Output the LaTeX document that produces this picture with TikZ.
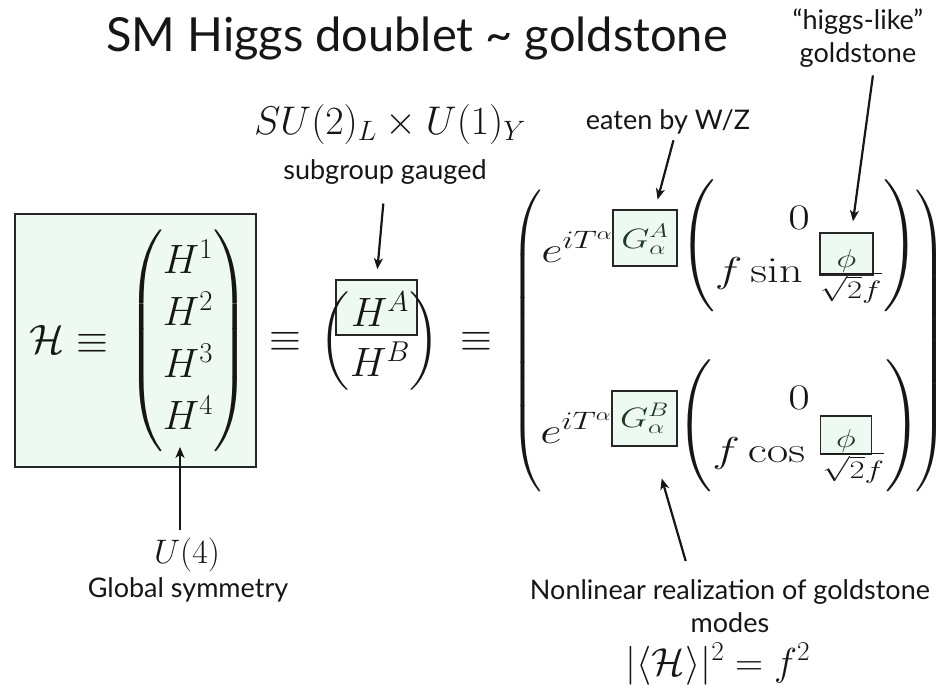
\RequirePackage{fix-cm}
\documentclass[tikz,border=0pt]{standalone}
\usepackage{amsmath,amssymb}
\usepackage{graphicx}
\usepackage[no-math]{fontspec}
\newfontfamily\slidefont{Lato}
\usepackage{xcolor}
\usepackage{tikz}
\usetikzlibrary{arrows.meta, positioning}

\definecolor{ink}{HTML}{161616}
\definecolor{boxline}{HTML}{262626}
\definecolor{boxfill}{HTML}{EEF9F2}
\definecolor{boxink}{HTML}{1D3A27}

% the right-hand formula is drawn a bit wider than tall
\newcommand{\stretchx}[1]{\scalebox{1.3}[1]{#1}}

\begin{document}
\begin{tikzpicture}[
    x=1pt, y=-1pt,
    hbox/.style={draw=boxline, fill=boxfill, line width=1.6pt, inner sep=0pt},
    lab/.style={font=\slidefont\fontsize{27}{33}\selectfont, text=ink, align=center, inner sep=0pt},
    mlab/.style={font=\fontsize{40}{48}\selectfont, text=ink, inner sep=0pt},
    big/.style={font=\fontsize{41}{52}\selectfont, text=ink, inner sep=0pt},
    mid/.style={font=\fontsize{44}{53}\selectfont, text=ink, inner sep=0pt},
    gsym/.style={hbox, anchor=base, font=\fontsize{28}{32}\selectfont, text=boxink},
    arr/.style={-{Stealth[length=11pt, width=9pt, inset=3pt]}, line width=2.2pt, draw=ink},
]
\useasboundingbox (0,0) rectangle (948,685);

% Title
\node[font=\slidefont\fontsize{47}{56}\selectfont, text=ink] (title) at (417,38) {SM Higgs doublet \textasciitilde{} goldstone};

% Left: the full U(4) multiplet
\node[hbox, minimum width=241pt, minimum height=253pt] (doublet) at (135.5,340.5) {};
\node[big, anchor=base] (calH) at (69,353) {$\mathcal{H}\equiv$};
\node[big] (Hvec) at (188,341) {$\begin{pmatrix}H^1\\H^2\\H^3\\H^4\end{pmatrix}$};
\node[big] (eqA) at (285,342) {$\equiv$};

% Middle: gauged part
\node[hbox, minimum width=81pt, minimum height=55pt] (HA) at (376.5,307.5) {};
\node[big, font=\fontsize{41}{50}\selectfont] (Hab) at (380,341) {$\begin{pmatrix}H^A\\H^B\end{pmatrix}$};
\node[big] (eqB) at (476,342) {$\equiv$};

% Right: nonlinear parametrisation
\node[font=\fontsize{36}{40}\selectfont, text=ink, inner sep=0pt] (bigL) at (527,341) {$\left(\vcenter{\hbox{\rule{0pt}{300pt}}}\right.$};
\node[font=\fontsize{36}{40}\selectfont, text=ink, inner sep=0pt] (bigR) at (931,341) {$\left.\vcenter{\hbox{\rule{0pt}{300pt}}}\right)$};

\node[gsym, minimum width=64pt, text height=38pt, text depth=18pt] (GA) at (645,248) {\stretchx{$G^A_\alpha$}};
\node[anchor=base east, font=\fontsize{36}{44}\selectfont, text=ink, inner sep=0pt] (expA) at (613,262) {\stretchx{$e^{iT^\alpha}$}};
\node[gsym, font=\fontsize{26}{30}\selectfont, minimum width=53pt, text height=34pt, text depth=8pt] (phiA) at (846.5,267) {\stretchx{$\phi$}};
\node[mid] (vecA) at (799,246) {$\left(\vcenter{\hbox{\rule{0pt}{120pt}}}\stretchx{\fontsize{36}{53}\selectfont$\begin{matrix}0\\ f\sin\,\frac{\vphantom{\phi}\hbox to 44pt{}}{\sqrt{2}f}\end{matrix}$}\right)$};

\node[gsym, minimum width=65pt, text height=36pt, text depth=19pt] (GB) at (644.5,427) {\stretchx{$G^B_\alpha$}};
\node[anchor=base east, font=\fontsize{36}{44}\selectfont, text=ink, inner sep=0pt] (expB) at (612,443) {\stretchx{$e^{iT^\alpha}$}};
\node[gsym, font=\fontsize{26}{30}\selectfont, minimum width=51pt, text height=31pt, text depth=7pt] (phiB) at (846,447) {\stretchx{$\phi$}};
\node[mid] (vecB) at (799,426) {$\left(\vcenter{\hbox{\rule{0pt}{120pt}}}\stretchx{\fontsize{36}{53}\selectfont$\begin{matrix}0\\ f\cos\,\frac{\vphantom{\phi}\hbox to 44pt{}}{\sqrt{2}f}\end{matrix}$}\right)$};

% Labels
\node[mlab] (sym) at (390,125) {$SU(2)_L\times U(1)_Y$};
\node[lab] (sub) at (385,172) {subgroup gauged};
\node[lab] (eaten) at (668,122) {eaten by W/Z};
\node[lab] (higgs) at (858,38) {“higgs-like”\\goldstone};
\node[mlab, font=\fontsize{34}{40}\selectfont] (u4) at (187,555) {$U(4)$};
\node[lab] (glob) at (188,590) {Global symmetry};
\node[lab] (nonlin) at (730,606) {Nonlinear realization of goldstone\\modes};
\node[mlab, font=\fontsize{39}{46}\selectfont] (vev) at (718,664) {$|\langle\mathcal{H}\rangle|^2 = f^2$};

% Arrows
\draw[arr, shorten <=8pt, shorten >=-5pt] ([xshift=-7pt]u4.north) -- ([xshift=-8pt]Hvec.south);
\draw[arr, shorten <=19pt, shorten >=10pt] (sub.south) -- (HA.north);
\draw[arr, shorten <=6pt, shorten >=10pt] ([xshift=7pt]eaten.south) -- ([xshift=10pt]GA.north);
\draw[arr, shorten <=8pt, shorten >=11pt] ([xshift=16pt]higgs.south) -- ([xshift=5pt]phiA.north);
\draw[arr, shorten <=19pt, shorten >=33pt] ([xshift=-39pt]nonlin.north) -- ([xshift=8pt]GB.south);

\end{tikzpicture}
\end{document}
